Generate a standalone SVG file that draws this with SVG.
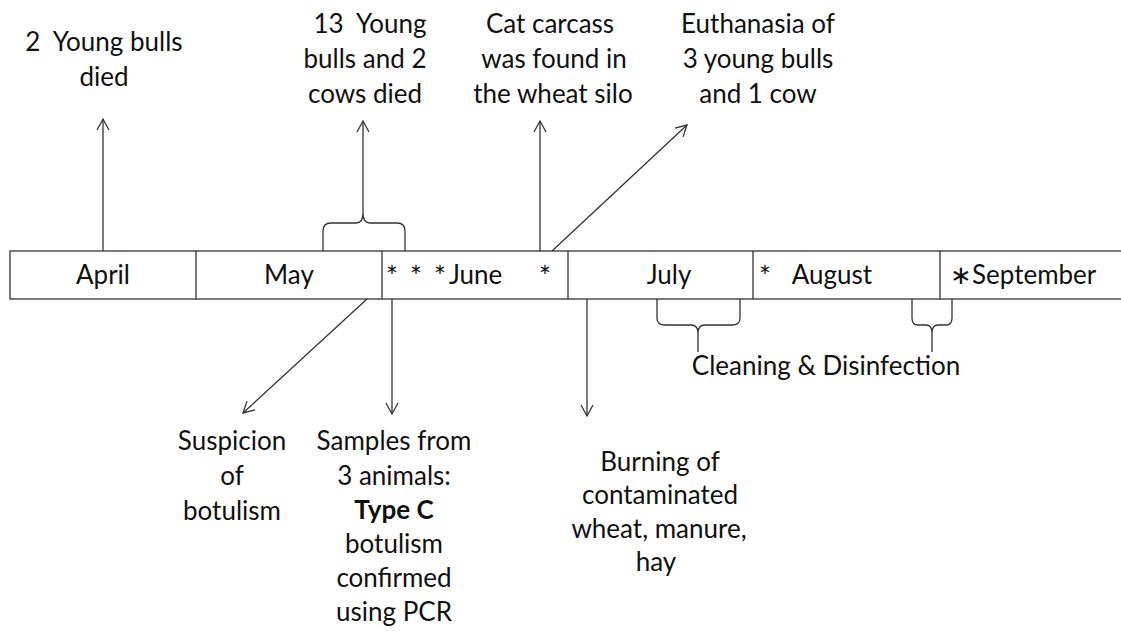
<svg xmlns="http://www.w3.org/2000/svg" width="1121" height="631" viewBox="0 0 1121 631">
<style>
text{font-family:Lato,"Open Sans","Liberation Sans",sans-serif;font-size:26px;fill:#111;}
.c{text-anchor:middle;}
.b{font-weight:bold;}
.s{font-size:28px;}
.ln{stroke:#333;stroke-width:1.3;fill:none;}
.ar{marker-end:url(#arr);}
</style>
<defs>
<marker id="arr" markerUnits="userSpaceOnUse" markerWidth="16" markerHeight="16" refX="12" refY="7" orient="auto">
<path d="M1,1 L12,7 L1,13" fill="none" stroke="#333" stroke-width="1.3"/>
</marker>
</defs>
<rect width="1121" height="631" fill="#fff"/>
<g id="timeline">
<rect class="ln" x="10" y="251" width="1125" height="48"/>
<line class="ln" x1="196" y1="251" x2="196" y2="299"/>
<line class="ln" x1="382" y1="251" x2="382" y2="299"/>
<line class="ln" x1="568" y1="251" x2="568" y2="299"/>
<line class="ln" x1="753" y1="251" x2="753" y2="299"/>
<line class="ln" x1="940" y1="251" x2="940" y2="299"/>
<text class="c" x="103" y="284">April</text>
<text class="c" x="289" y="284">May</text>
<text class="s" x="386" y="287">*</text>
<text class="s" x="410" y="287">*</text>
<text class="s" x="434" y="287">*</text>
<text x="449" y="284">June</text>
<text class="s" x="539" y="287">*</text>
<text class="c" x="669" y="284">July</text>
<text class="s" x="759" y="287">*</text>
<text class="c" x="832" y="284">August</text>
<text x="950" y="284">∗September</text>
</g>
<g id="n-april-deaths">
<text class="c" x="104" y="51" xml:space="preserve">2  Young bulls</text>
<text class="c" x="104" y="86">died</text>
</g>
<g id="n-may-deaths">
<text class="c" x="370" y="33" xml:space="preserve">13  Young</text>
<text class="c" x="365" y="68">bulls and 2</text>
<text class="c" x="365" y="103">cows died</text>
</g>
<g id="n-cat">
<text class="c" x="550" y="33">Cat carcass</text>
<text class="c" x="554" y="68">was found in</text>
<text class="c" x="553" y="103">the wheat silo</text>
</g>
<g id="n-euthanasia">
<text class="c" x="758" y="33">Euthanasia of</text>
<text class="c" x="758" y="68">3 young bulls</text>
<text class="c" x="758" y="103">and 1 cow</text>
</g>
<g id="n-suspicion">
<text class="c" x="232" y="450">Suspicion</text>
<text class="c" x="232" y="485">of</text>
<text class="c" x="232" y="520">botulism</text>
</g>
<g id="n-samples">
<text class="c" x="394" y="450">Samples from</text>
<text class="c" x="394" y="485">3 animals:</text>
<text class="c b" x="394" y="519">Type C</text>
<text class="c" x="394" y="553">botulism</text>
<text class="c" x="394" y="587">confirmed</text>
<text class="c" x="394" y="621">using PCR</text>
</g>
<g id="n-burning">
<text class="c" x="660" y="471">Burning of</text>
<text class="c" x="660" y="504">contaminated</text>
<text class="c" x="659" y="538">wheat, manure,</text>
<text class="c" x="656" y="571">hay</text>
</g>
<g id="n-cleaning">
<text class="c" x="826" y="375">Cleaning &amp; Disinfection</text>
</g>
<g id="connectors">
<line class="ln ar" x1="103" y1="251" x2="103" y2="119"/>
<path class="ln" d="M323,251 L323,231 Q323,223 331,223 L356,223 Q363,223 363,213 Q363,223 370,223 L397,223 Q405,223 405,231 L405,251"/>
<line class="ln ar" x1="363" y1="213" x2="363" y2="121"/>
<line class="ln ar" x1="540" y1="251" x2="540" y2="121"/>
<line class="ln ar" x1="552" y1="251" x2="687" y2="125"/>
<line class="ln ar" x1="367" y1="299" x2="243" y2="413"/>
<line class="ln ar" x1="392" y1="299" x2="392" y2="414"/>
<line class="ln ar" x1="587" y1="299" x2="587" y2="416"/>
<path class="ln" d="M657,299 L657,318 Q657,325 665,325 L691,325 Q698,325 698,333 Q698,325 705,325 L732,325 Q740,325 740,318 L740,299 M698,333 L698,352"/>
<path class="ln" d="M912,299 L912,318 Q912,325 918,325 L926,325 Q932,325 932,333 Q932,325 938,325 L946,325 Q952,325 952,318 L952,299 M932,333 L932,352"/>
</g>
</svg>
